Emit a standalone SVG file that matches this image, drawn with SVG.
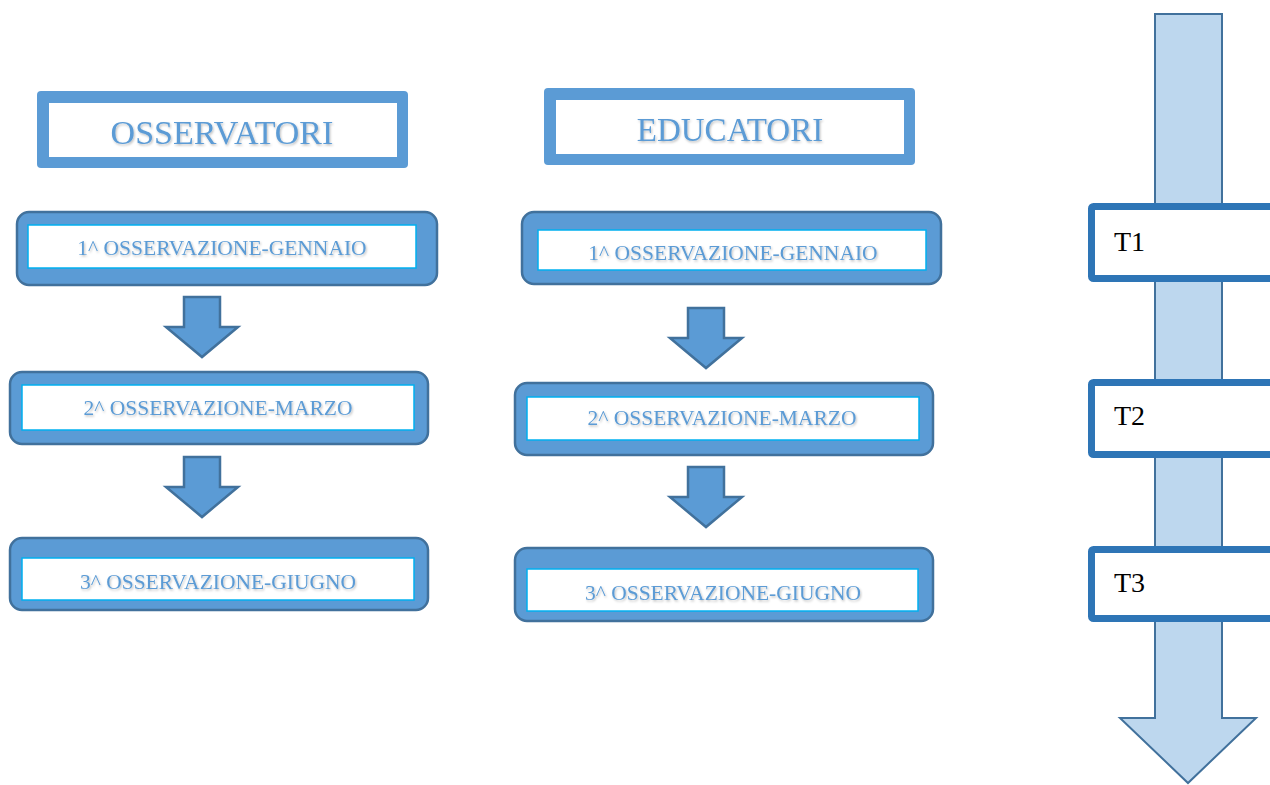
<svg xmlns="http://www.w3.org/2000/svg" width="1270" height="785" viewBox="0 0 1270 785">
<defs>
<filter id="sh" x="-5%" y="-30%" width="110%" height="160%">
<feDropShadow dx="1" dy="1.5" stdDeviation="1" flood-color="#000" flood-opacity="0.25"/>
</filter>
<style>
.hdr{fill:#5b9bd5;}
.hdrIn{fill:#fff;}
.obs{fill:#5b9bd5;stroke:#41719c;stroke-width:2.5;}
.obsIn{fill:#fff;stroke:#00b0f0;stroke-width:1.5;}
.dn{fill:#5b9bd5;stroke:#41719c;stroke-width:2.5;stroke-linejoin:miter;}
.tl{fill:#bdd7ee;stroke:#41719c;stroke-width:2;}
.tb{fill:#fff;stroke:#2e75b6;stroke-width:7;}
.t1{font-family:"Liberation Serif",serif;fill:#5b9bd5;text-anchor:middle;}
.tt{font-family:"Liberation Serif",serif;fill:#000;font-size:28px;}
</style>
</defs>
<rect width="1270" height="785" fill="#fff"/>

<g id="timeline">
<polygon class="tl" points="1155,14 1222,14 1222,718 1256,718 1188,783 1120,718 1155,718"/>
</g>

<g id="osservatori">
<rect class="hdr" x="37" y="91" width="371" height="77" rx="4"/>
<rect class="hdrIn" x="49" y="103" width="348" height="54"/>
<text class="t1" x="222" y="144" font-size="34" filter="url(#sh)">OSSERVATORI</text>
</g>
<g id="educatori">
<rect class="hdr" x="544" y="88" width="371" height="77" rx="4"/>
<rect class="hdrIn" x="556" y="100" width="348" height="54"/>
<text class="t1" x="730" y="141" font-size="33" filter="url(#sh)">EDUCATORI</text>
</g>

<g id="oss1">
<rect class="obs" x="17" y="212" width="420" height="73" rx="12"/>
<rect class="obsIn" x="28" y="225" width="388" height="43"/>
<text class="t1" x="222" y="255" font-size="21.5" filter="url(#sh)">1^ OSSERVAZIONE-GENNAIO</text>
</g>
<g id="oss2">
<rect class="obs" x="10" y="372" width="418" height="72" rx="12"/>
<rect class="obsIn" x="22" y="385" width="392" height="45"/>
<text class="t1" x="218" y="415" font-size="21.5" filter="url(#sh)">2^ OSSERVAZIONE-MARZO</text>
</g>
<g id="oss3">
<rect class="obs" x="10" y="538" width="418" height="72" rx="12"/>
<rect class="obsIn" x="22" y="558" width="392" height="42"/>
<text class="t1" x="218" y="589" font-size="21.5" filter="url(#sh)">3^ OSSERVAZIONE-GIUGNO</text>
</g>

<g id="edu1">
<rect class="obs" x="522" y="212" width="419" height="72" rx="12"/>
<rect class="obsIn" x="538" y="230" width="388" height="40"/>
<text class="t1" x="733" y="260" font-size="21.5" filter="url(#sh)">1^ OSSERVAZIONE-GENNAIO</text>
</g>
<g id="edu2">
<rect class="obs" x="515" y="383" width="418" height="72" rx="12"/>
<rect class="obsIn" x="527" y="397" width="392" height="43"/>
<text class="t1" x="722" y="425" font-size="21.5" filter="url(#sh)">2^ OSSERVAZIONE-MARZO</text>
</g>
<g id="edu3">
<rect class="obs" x="515" y="548" width="418" height="73" rx="12"/>
<rect class="obsIn" x="527" y="569" width="391" height="42"/>
<text class="t1" x="723" y="600" font-size="21.5" filter="url(#sh)">3^ OSSERVAZIONE-GIUGNO</text>
</g>

<g id="connectors">
<polygon class="dn" points="184,297 220,297 220,327 238,327 202,357 166,327 184,327"/>
<polygon class="dn" points="184,457 220,457 220,487 238,487 202,517 166,487 184,487"/>
<polygon class="dn" points="688,308 724,308 724,338 742,338 706,368 670,338 688,338"/>
<polygon class="dn" points="688,467 724,467 724,497 742,497 706,527 670,497 688,497"/>
</g>

<g id="T1">
<rect class="tb" x="1091.5" y="206.5" width="185" height="72" rx="2"/>
<text class="tt" x="1114" y="251">T1</text>
</g>
<g id="T2">
<rect class="tb" x="1091.5" y="382.5" width="185" height="72" rx="2"/>
<text class="tt" x="1114" y="425">T2</text>
</g>
<g id="T3">
<rect class="tb" x="1091.5" y="549.5" width="185" height="69" rx="2"/>
<text class="tt" x="1114" y="592">T3</text>
</g>
</svg>
